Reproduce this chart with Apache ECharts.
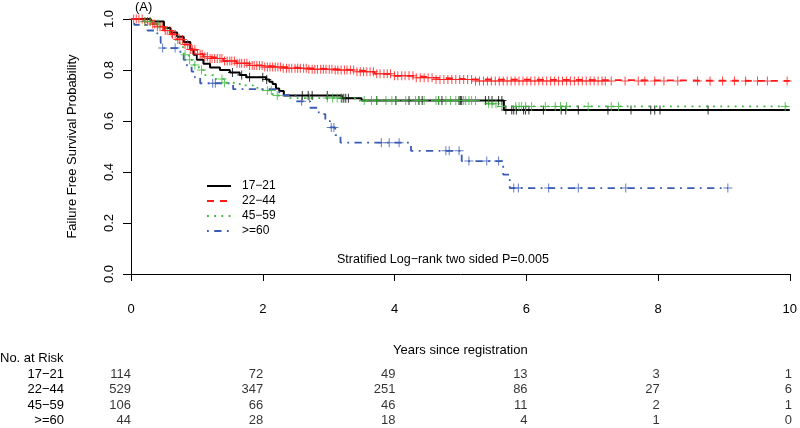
<!DOCTYPE html>
<html>
<head>
<meta charset="utf-8">
<script src="https://cdn.jsdelivr.net/npm/echarts@6/dist/echarts.min.js"></script>
<style>
html,body{margin:0;padding:0;background:#fff;}
#chart{width:800px;height:428px;}
</style>
</head>
<body>
<div id="chart"></div>
<script>
// ---- data ----
const groups = ['17−21', '22−44', '45−59', '>=60'];
const colors = ['#000000', '#ff1a1a', '#3cb83c', '#3a5cb4'];

// Kaplan-Meier step events (time in years, survival after the drop)
const t1721 = [0.30,0.50,0.60,0.70,0.80,0.90,0.95,1.00,1.10,1.20,1.35,1.50,1.65,1.75,2.05,2.10,2.15,2.20,2.25,2.32,3.20,3.50,5.66];
const s1721 = [0.99,0.965,0.947,0.93,0.91,0.88,0.86,0.84,0.825,0.81,0.80,0.79,0.78,0.772,0.763,0.754,0.745,0.727,0.718,0.70,0.689,0.68,0.643];

const t2244 = [0.20,0.30,0.40,0.50,0.60,0.70,0.80,0.90,1.00,1.10,1.20,1.40,1.60,1.80,2.00,2.30,2.70,3.10,3.40,3.70,4.00,4.30,4.60,5.20];
const s2244 = [0.99,0.98,0.97,0.955,0.94,0.92,0.90,0.88,0.862,0.852,0.845,0.835,0.826,0.818,0.812,0.807,0.803,0.80,0.793,0.785,0.777,0.77,0.763,0.757];

const t4559 = [0.20,0.35,0.45,0.55,0.62,0.68,0.74,0.80,0.88,0.96,1.03,1.10,1.25,1.40,1.65,1.85,2.00,2.15,2.40,3.40,5.40,5.55];
const s4559 = [0.99,0.98,0.965,0.95,0.93,0.91,0.89,0.86,0.84,0.82,0.80,0.78,0.765,0.75,0.74,0.73,0.72,0.70,0.69,0.68,0.668,0.657];

const t60 = [0.05,0.25,0.40,0.45,0.48,0.75,0.80,0.85,0.92,0.97,1.05,1.55,2.25,2.50,2.72,2.85,2.95,3.02,3.10,3.18,4.25,5.02,5.65,5.75];
const s60 = [0.977,0.955,0.932,0.909,0.886,0.863,0.84,0.817,0.794,0.771,0.748,0.725,0.701,0.677,0.652,0.627,0.60,0.575,0.545,0.515,0.483,0.443,0.39,0.337];

const lastFollowUp = [10, 10, 10, 9.06];

// censoring times
const c1721 = [1.54,1.68,1.80,2.00,2.06,2.60,2.69,2.75,2.98,3.20,3.23,3.26,3.30,3.73,4.02,4.22,4.37,4.42,4.67,4.72,4.98,5.00,5.02,5.38,5.43,5.48,5.58,5.63,5.69,5.78,5.81,5.85,5.96,5.99,6.04,6.26,6.53,6.60,6.79,7.24,7.59,7.89,7.95,8.03,8.76];
const c2244 = [0.04,0.08,0.12,0.17,0.21,0.25,0.29,0.33,0.36,0.40,0.44,0.48,0.52,0.55,0.59,0.63,0.67,0.71,0.74,0.78,0.82,0.86,0.90,0.93,0.97,1.01,1.05,1.08,1.12,1.16,1.20,1.23,1.27,1.31,1.35,1.38,1.42,1.46,1.50,1.53,1.57,1.61,1.65,1.68,1.72,1.76,1.80,1.84,1.87,1.91,1.95,1.99,2.03,2.07,2.11,2.15,2.19,2.23,2.27,2.31,2.36,2.40,2.44,2.49,2.53,2.57,2.62,2.66,2.70,2.75,2.79,2.83,2.88,2.92,2.96,3.01,3.05,3.10,3.14,3.19,3.24,3.28,3.33,3.38,3.43,3.48,3.53,3.58,3.63,3.68,3.73,3.78,3.84,3.89,3.94,4.00,4.05,4.11,4.16,4.22,4.28,4.33,4.39,4.45,4.51,4.57,4.63,4.69,4.75,4.81,4.87,4.93,4.99,5.05,5.11,5.17,5.23,5.29,5.35,5.41,5.47,5.53,5.59,5.65,5.71,5.77,5.83,5.89,5.95,6.01,6.07,6.13,6.19,6.25,6.31,6.37,6.43,6.49,6.55,6.61,6.67,6.73,6.79,6.85,6.91,6.97,7.03,7.09,7.15,7.20,7.29,7.50,7.70,7.80,7.95,8.09,8.30,8.60,8.79,8.98,9.16,9.33,9.51,9.66,9.96];
const c4559 = [0.21,0.29,0.41,0.82,0.89,0.97,1.07,1.38,1.42,2.07,2.13,2.22,2.71,2.98,3.06,3.13,3.19,3.54,3.65,3.73,3.87,3.96,4.02,4.17,4.32,4.37,4.45,4.63,4.67,4.78,4.85,4.93,4.98,5.05,5.08,5.13,5.17,5.23,5.43,5.48,5.54,5.63,5.84,5.89,5.93,5.99,6.08,6.29,6.44,6.52,6.61,6.94,7.29,7.40,9.93];
const c60 = [0.48,0.67,1.24,1.28,2.59,3.04,3.08,3.80,3.92,4.07,4.78,4.83,4.98,5.13,5.40,5.58,5.81,5.88,6.34,6.79,7.51,9.06];

// number at risk table
const riskTimes = [0, 2, 4, 6, 8, 10];
const risk1721 = [114, 72, 49, 13, 3, 1];
const risk2244 = [529, 347, 251, 86, 27, 6];
const risk4559 = [106, 66, 46, 11, 2, 1];
const risk60 = [44, 28, 18, 4, 1, 0];

// ---- build ----
const eventT = [t1721, t2244, t4559, t60];
const eventS = [s1721, s2244, s4559, s60];
const censT = [c1721, c2244, c4559, c60];
const riskRows = [risk1721, risk2244, risk4559, risk60];
const dashes = [
  null,
  [7, 6],
  [1.8, 5.4],
  [1.8, 5.4, 7.3, 5.4]
];

function survAt(t, times, surv) {
  let s = 1;
  for (let i = 0; i < times.length; i++) { if (times[i] <= t) s = surv[i]; }
  return s;
}

const plus = 'path://M4,0H5V4H9V5H5V9H4V5H0V4H4Z';
const series = [];
groups.forEach((g, i) => {
  const data = [[0, 1]];
  eventT[i].forEach((t, k) => data.push([t, eventS[i][k]]));
  data.push([lastFollowUp[i], eventS[i][eventS[i].length - 1]]);
  series.push({
    name: g, type: 'line', step: 'end', data: data,
    xAxisIndex: 0, yAxisIndex: 0,
    symbol: 'none', showSymbol: false,
    lineStyle: { color: colors[i], width: i === 0 ? 2 : 1.8, type: dashes[i] || 'solid' },
    itemStyle: { color: colors[i] },
    z: 2 + i
  });
});
groups.forEach((g, i) => {
  series.push({
    name: g + ' censored', type: 'scatter',
    xAxisIndex: 0, yAxisIndex: 0,
    data: censT[i].map(t => [t, survAt(t, eventT[i], eventS[i])]),
    symbol: plus, symbolSize: 9,
    itemStyle: { color: colors[i] },
    z: 10 + i
  });
});
// risk table
const riskData = [];
groups.forEach((g, i) => {
  riskTimes.forEach((t, j) => riskData.push([t, g, riskRows[i][j]]));
});
series.push({
  name: 'No. at Risk', type: 'scatter', xAxisIndex: 1, yAxisIndex: 1,
  data: riskData, symbolSize: 1,
  itemStyle: { color: 'rgba(0,0,0,0)' },
  label: {
    show: true, position: 'inside', align: 'right', verticalAlign: 'middle',
    formatter: p => String(p.value[2]), color: '#000',
    fontFamily: 'Liberation Sans', fontSize: 13
  },
  silent: true
});

const font = 'Liberation Sans';
// legend drawn as graphic elements (line sample + label)
const legendY = [186, 201, 216, 231];
const legendGraphics = [];
groups.forEach((g, i) => {
  legendGraphics.push({
    type: 'line', shape: { x1: 207, y1: legendY[i], x2: 231, y2: legendY[i] },
    style: { stroke: colors[i], lineWidth: i === 0 ? 2 : 1.8, lineDash: dashes[i] || null }
  });
  legendGraphics.push({
    type: 'text', x: 242, y: legendY[i],
    style: { text: g, fontSize: 12, fontFamily: font, fill: '#000', verticalAlign: 'middle', align: 'left' }
  });
});

const chart = echarts.init(document.getElementById('chart'), null, { renderer: 'canvas' });
chart.setOption({
  animation: false,
  backgroundColor: '#fff',
  textStyle: { fontFamily: font },
  grid: [
    { left: 131, right: 8, top: 19, bottom: 154 },
    { left: 131, right: 8, top: 367, height: 64 }
  ],
  xAxis: [
    {
      type: 'value', gridIndex: 0, min: 0, max: 10, interval: 2, offset: 10,
      name: 'Years since registration', nameLocation: 'middle', nameGap: 60,
      nameTextStyle: { color: '#000', fontSize: 13, fontFamily: font },
      axisLine: { show: true, lineStyle: { color: '#000', width: 1 } },
      axisTick: { show: true, length: 7, lineStyle: { color: '#000' } },
      axisLabel: { color: '#000', fontSize: 13, margin: 19, fontFamily: font },
      splitLine: { show: false }
    },
    {
      type: 'value', gridIndex: 1, min: 0, max: 10, show: false
    }
  ],
  yAxis: [
    {
      type: 'value', gridIndex: 0, min: 0, max: 1, interval: 0.2,
      name: 'Failure Free Survival Probability', nameLocation: 'middle', nameGap: 52,
      nameTextStyle: { color: '#000', fontSize: 13, fontFamily: font },
      axisLine: { show: true, lineStyle: { color: '#000', width: 1 } },
      axisTick: { show: true, length: 8, lineStyle: { color: '#000' } },
      axisLabel: { color: '#000', fontSize: 13, rotate: 90, margin: 15, fontFamily: font,
        formatter: v => v.toFixed(1) },
      splitLine: { show: false }
    },
    {
      type: 'category', gridIndex: 1, data: groups, inverse: true,
      axisLine: { show: false }, axisTick: { show: false }, splitLine: { show: false },
      axisLabel: { color: '#000', fontSize: 13, margin: 67, fontFamily: font, interval: 0 }
    }
  ],
  graphic: [
    { type: 'text', left: 135, top: 1, style: { text: '(A)', fontSize: 13, fontFamily: font, fill: '#000' } },
    { type: 'text', left: 337, top: 253, style: { text: 'Stratified Log−rank two sided P=0.005', fontSize: 12.5, fontFamily: font, fill: '#000' } },
    { type: 'text', left: 0, top: 352, style: { text: 'No. at Risk', fontSize: 13, fontFamily: font, fill: '#000' } }
  ].concat(legendGraphics),
  series: series
});
</script>
</body>
</html>
